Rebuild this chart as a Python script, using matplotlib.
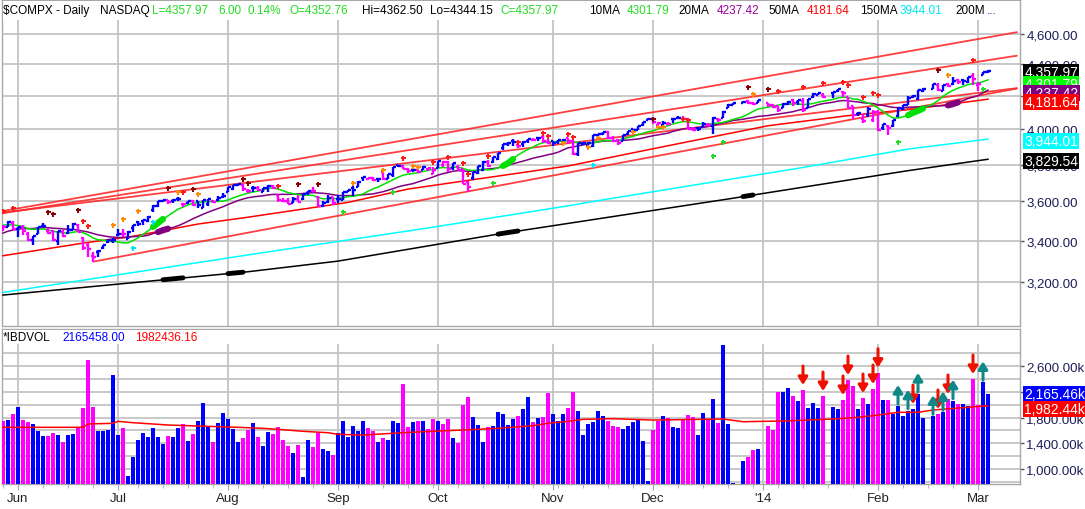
import numpy as np
import pandas as pd
import matplotlib
matplotlib.use("Agg")
import matplotlib.pyplot as plt
from matplotlib.collections import LineCollection
from matplotlib.patches import Rectangle
from matplotlib.ticker import FixedLocator, NullLocator, FuncFormatter, NullFormatter

plt.rcParams['font.family'] = ['Liberation Sans', 'DejaVu Sans']

# ---------------- data ----------------
# trading-day slots (holidays Dec 25, Jan 1, Jan 20, Feb 17 are shown as empty slots)
dates = pd.bdate_range("2013-05-29", "2014-03-05")
dates = dates.drop(pd.to_datetime(["2013-07-04", "2013-09-02", "2013-11-28"]))

prior_closes = [3299.13, 3340.62, 3378.63, 3392.97, 3396.63, 3413.27, 3409.17, 3436.58, 3438.79, 3462.61,
                3471.62, 3465.24, 3498.97, 3496.43, 3502.12, 3463.30, 3459.42, 3459.14, 3488.89]

opens = [
    3474, 3468, 3486, 3460, 3466, 3435, 3405, 3435, 3473, 3446,
    3450, 3396, 3444, 3440, 3452, 3480, 3412, 3380, 3323, 3341,
    3365, 3392, 3396, 3426, 3432, 3410, 3464, 3495, 3498, 3500,
    3557, 3575, 3601, 3606, 3601, 3611, 3586, 3592, 3600, 3601,
    3567, 3589, 3603, 3608, 3623, 3650, 3667, 3688, 3689, 3657,
    3669, 3670, 3650, 3674, 3685, 3633, 3605, 3604, 3593, 3611,
    3614, 3646, 3658, 3626, 3574, 3595, 3623, 3613, 3608, 3651,
    3674, 3677, 3725, 3723, 3725, 3719, 3759, 3720, 3744, 3797,
    3792, 3775, 3769, 3770, 3770, 3775, 3749, 3782, 3795, 3813,
    3778, 3786, 3773, 3706, 3724, 3751, 3770, 3812, 3812, 3829,
    3894, 3914, 3935, 3911, 3917, 3936, 3941, 3950, 3957, 3927,
    3931, 3929, 3924, 3950, 3935, 3858, 3915, 3910, 3903, 3966,
    3973, 3986, 3950, 3937, 3932, 3972, 4000, 3996, 4024, 4058,
    4064, 4025, 4026, 4035, 4059, 4068, 4060, 4062, 4005, 4010,
    4012, 4025, 4022, 4060, 4068, 4126, 4149, None, 4160, 4171,
    4158, 4161, None, 4161, 4149, 4138, 4129, 4154, 4179, 4163,
    4168, 4126, 4194, 4210, 4209, None, 4219, 4235, 4228, 4193,
    4137, 4090, 4061, 4083, 4054, 4105, 4009, 4019, 4022, 4082,
    4122, 4148, 4193, 4180, 4235, None, 4246, 4267, 4235, 4275,
    4273, 4298, 4300, 4285, 4327, 4270, 4331, 4352.76]

highs = [
    3478, 3500, 3500, 3467, 3478, 3443, 3425, 3470, 3488, 3461,
    3453, 3450, 3455, 3476, 3490, 3485, 3418, 3386, 3344, 3353,
    3378, 3409, 3414, 3458, 3456, 3449, 3480, 3498, 3505, 3525,
    3579, 3601, 3610, 3610, 3614, 3626, 3590, 3602, 3606, 3604,
    3606, 3614, 3608, 3630, 3646, 3678, 3690, 3693, 3692, 3666,
    3680, 3680, 3670, 3688, 3687, 3633, 3617, 3619, 3622, 3633,
    3639, 3658, 3675, 3631, 3605, 3634, 3625, 3636, 3651, 3662,
    3681, 3708, 3730, 3727, 3730, 3723, 3761, 3750, 3789, 3800,
    3800, 3778, 3781, 3778, 3794, 3783, 3785, 3819, 3820, 3819,
    3808, 3798, 3776, 3712, 3761, 3792, 3817, 3823, 3840, 3864,
    3916, 3925, 3946, 3920, 3932, 3944, 3948, 3953, 3968, 3942,
    3934, 3937, 3947, 3953, 3938, 3920, 3925, 3925, 3966, 3975,
    3986, 3991, 3960, 3946, 3970, 3992, 4003, 4022, 4046, 4069,
    4071, 4044, 4052, 4047, 4063, 4077, 4078, 4066, 4012, 4012,
    4042, 4036, 4071, 4068, 4111, 4150, 4157, None, 4169, 4175,
    4164, 4177, None, 4161, 4152, 4139, 4157, 4171, 4182, 4175,
    4188, 4184, 4221, 4220, 4221, None, 4226, 4247, 4232, 4197,
    4138, 4105, 4091, 4132, 4117, 4116, 4032, 4027, 4058, 4126,
    4149, 4198, 4208, 4241, 4250, None, 4274, 4283, 4271, 4284,
    4318, 4307, 4305, 4322, 4342, 4288, 4354, 4362.50]

lows = [
    3446, 3466, 3455, 3419, 3430, 3397, 3378, 3432, 3466, 3432,
    3396, 3379, 3419, 3432, 3452, 3442, 3355, 3321, 3295, 3320,
    3356, 3390, 3388, 3423, 3416, 3409, 3445, 3473, 3478, 3495,
    3545, 3570, 3596, 3587, 3594, 3605, 3569, 3588, 3578, 3567,
    3564, 3577, 3593, 3601, 3618, 3648, 3663, 3681, 3655, 3645,
    3651, 3655, 3648, 3650, 3664, 3599, 3598, 3589, 3591, 3596,
    3610, 3636, 3656, 3577, 3570, 3592, 3581, 3591, 3606, 3649,
    3630, 3676, 3712, 3713, 3712, 3705, 3713, 3720, 3731, 3784,
    3774, 3753, 3760, 3755, 3768, 3766, 3746, 3780, 3789, 3760,
    3771, 3770, 3692, 3650, 3717, 3750, 3766, 3789, 3810, 3826,
    3884, 3905, 3906, 3891, 3900, 3920, 3931, 3935, 3922, 3917,
    3902, 3914, 3919, 3917, 3856, 3849, 3911, 3902, 3900, 3957,
    3970, 3944, 3926, 3911, 3932, 3969, 3987, 3995, 4023, 4055,
    4035, 4017, 4011, 4026, 4040, 4064, 4057, 4001, 3989, 3990,
    4012, 4015, 3973, 4046, 4068, 4126, 4147, None, 4156, 4150,
    4145, 4157, None, 4132, 4125, 4103, 4125, 4145, 4142, 4149,
    4106, 4126, 4190, 4206, 4189, None, 4188, 4227, 4196, 4127,
    4061, 4077, 4040, 4076, 4044, 3993, 3997, 3968, 4017, 4076,
    4118, 4144, 4189, 4179, 4225, None, 4245, 4232, 4230, 4258,
    4270, 4275, 4270, 4281, 4269, 4234, 4331, 4344.15]

closes = [
    3467.52, 3491.30, 3455.91, 3465.37, 3445.26, 3401.48, 3424.05, 3469.22, 3473.77, 3436.95,
    3400.43, 3445.36, 3423.56, 3452.13, 3482.18, 3443.20, 3364.64, 3357.25, 3320.76, 3347.89,
    3376.22, 3401.86, 3403.25, 3434.49, 3433.40, 3443.67, 3479.38, 3484.83, 3504.26, 3520.76,
    3578.30, 3600.08, 3607.49, 3598.50, 3610.00, 3611.28, 3587.61, 3600.39, 3579.27, 3579.60,
    3605.19, 3613.16, 3599.14, 3616.47, 3626.37, 3675.74, 3689.59, 3692.95, 3665.77, 3654.01,
    3669.12, 3660.11, 3669.95, 3684.44, 3669.27, 3606.12, 3602.78, 3589.09, 3613.59, 3599.79,
    3638.71, 3657.79, 3657.57, 3578.52, 3593.35, 3620.30, 3589.87, 3612.61, 3649.04, 3658.78,
    3660.01, 3706.18, 3729.02, 3725.01, 3715.97, 3722.18, 3717.85, 3745.70, 3783.64, 3789.38,
    3774.73, 3765.29, 3768.25, 3761.10, 3787.43, 3781.59, 3771.48, 3817.98, 3815.02, 3774.34,
    3807.75, 3770.38, 3694.83, 3677.78, 3760.75, 3791.87, 3815.28, 3794.01, 3839.43, 3863.15,
    3914.28, 3920.05, 3929.57, 3907.07, 3928.96, 3943.36, 3940.13, 3952.34, 3930.62, 3919.71,
    3922.04, 3936.59, 3939.86, 3931.95, 3857.33, 3919.23, 3919.79, 3919.92, 3965.58, 3972.74,
    3985.97, 3949.07, 3931.55, 3921.27, 3969.16, 3991.65, 3994.57, 4017.75, 4044.75, 4059.89,
    4045.26, 4037.20, 4038.00, 4033.16, 4062.52, 4068.75, 4060.49, 4003.81, 3998.40, 4000.98,
    4029.52, 4023.68, 4070.06, 4058.13, 4104.74, 4148.90, 4155.42, None, 4167.18, 4156.59,
    4154.20, 4176.59, None, 4143.07, 4131.91, 4113.68, 4153.18, 4165.61, 4156.19, 4174.67,
    4113.30, 4183.02, 4214.88, 4218.69, 4197.58, None, 4225.76, 4243.00, 4218.88, 4128.17,
    4083.61, 4097.96, 4051.43, 4123.13, 4103.88, 3996.96, 4031.52, 4011.55, 4057.12, 4125.86,
    4148.17, 4191.05, 4201.29, 4240.67, 4244.03, None, 4272.78, 4237.95, 4267.55, 4263.41,
    4292.06, 4287.59, 4292.97, 4318.93, 4308.12, 4277.30, 4351.97, 4357.97]

# volume in thousands of shares
volume_k = [
    1751, 1766, 1855, 1968, 1766, 1730, 1699, 1590, 1513, 1513,
    1559, 1528, 1420, 1528, 1544, 1637, 1948, 2694, 1963, 1590,
    1590, 1606, 2461, 1528, 1637, 896, 1186, 1451, 1559, 1497,
    1637, 1497, 1389, 1513, 1497, 1637, 1699, 1435, 1544, 1746,
    2026, 1653, 1420, 1715, 1870, 1777, 1622, 1420, 1482, 1606,
    1715, 1497, 1357, 1575, 1544, 1653, 1451, 1357, 1249, 1373,
    876, 1451, 1342, 1559, 1311, 1280, 1218, 1559, 1746, 1497,
    1668, 1590, 1746, 1637, 1590, 1420, 1482, 1451, 1746, 1715,
    2321, 1653, 1730, 1746, 1746, 1622, 1777, 1746, 1699, 1777,
    1482, 1404, 1994, 2119, 1808, 1684, 1420, 1653, 1668, 1886,
    1855, 1684, 1777, 1824, 1932, 2119, 1730, 1793, 1808, 2181,
    1855, 1746, 1855, 1948, 2197, 1901, 1528, 1699, 1730, 1901,
    1824, 1746, 1668, 1653, 1622, 1668, 1730, 1777, 1440, 816,
    1611, 1751, 1819, 1788, 1648, 1632, 1777, 1839, 1803, 1528,
    1865, 1777, 2088, 1710, 2927, 1699, 782, None, 1119, 1191,
    1295, 1311, None, 1663, 1606, 2197, 2197, 2259, 2134, 2057,
    2228, 1948, 2026, 1948, 2134, None, 1963, 1932, 2072, 2383,
    2290, 1932, 2103, 2010, 2243, 2497, 2072, 2072, 1855, 1979,
    1830, 1906, 1932, 2166, 1788, None, 1819, 1855, 1881, 2088,
    2062, 2010, 2010, 1984, 2399, 1995, 2347, 2165.458]

# 50-day volume average
vma_idx = [0, 16, 17, 22, 23, 26, 33, 39, 47, 52, 56, 60, 65, 67, 72, 80, 86, 92, 99, 106,
           109, 113, 116, 122, 130, 144, 148, 156, 166, 171, 175, 179, 183, 186, 193, 197]
vma_val = [1648, 1648, 1700, 1710, 1741, 1720, 1684, 1668, 1648, 1632, 1611, 1586, 1564, 1539,
           1528, 1564, 1586, 1606, 1632, 1673, 1710, 1741, 1772, 1782, 1761, 1777, 1735, 1746,
           1777, 1803, 1839, 1881, 1881, 1917, 1959, 1982.436]

# longer moving averages
ma50_idx = [0, 16, 26, 39, 49, 69, 81, 113, 133, 153, 169, 182, 197]
ma50_val = [3325, 3387, 3421, 3483, 3518, 3595, 3666, 3792, 3906, 4022, 4082, 4121, 4181.64]
ma150_idx = [0, 49, 85, 113, 121, 159, 181, 197]
ma150_val = [3151, 3329, 3463, 3577, 3613, 3779, 3887, 3944.01]
ma200_idx = [0, 49, 67, 99, 145, 181, 197]
ma200_val = [3139, 3248, 3299, 3432, 3613, 3766, 3829.54]

# trendlines: (start idx, start price, end idx, end price)
trend_lines = [
    (0, 3550, 202.9, 4613),
    (0, 3539, 202.9, 4457),
    (0, 3542, 202.9, 4250),
    (18, 3296, 202.9, 4248),
]

# signal dots
dot_idx = [0, 2, 9, 10, 15, 16, 17, 22, 24, 26, 27, 30, 33, 35, 36, 38, 39, 48, 49, 55,
           59, 63, 68, 70, 76, 78, 80, 82, 83, 86, 89, 92, 93, 97, 98, 103, 108, 109, 112, 113,
           114, 117, 118, 119, 126, 130, 131, 132, 136, 137, 142, 144, 149, 150, 153, 155, 160, 164, 168, 169,
           172, 174, 175, 179, 187, 189, 194, 196]
dot_price = [3552, 3566, 3543, 3537, 3557, 3498, 3472, 3478, 3507, 3363, 3549, 3494, 3670, 3651, 3651, 3665, 3638, 3719, 3697, 3685,
             3691, 3691, 3544, 3697, 3771, 3651, 3839, 3793, 3788, 3815, 3842, 3807, 3750, 3848, 3697, 3925, 3978, 3963, 3923, 3972,
             3958, 3900, 3795, 3953, 3983, 4060, 4012, 4012, 4064, 4056, 3848, 3926, 4256, 4215, 4242, 4231, 4256, 4281, 4290, 4267,
             4196, 4217, 4208, 3929, 4363, 4335, 4428, 4242]
dot_kind = ['r', 'r', 'd', 'd', 'd', 'r', 'r', 'o', 'o', 'c', 'o', 'c', 'd', 'o', 'r', 'd', 'o', 'd', 'd', 'r',
            'd', 'd', 'g', 'o', 'o', 'g', 'r', 'o', 'o', 'r', 'r', 'r', 'r', 'r', 'g', 'r', 'r', 'r', 'o', 'r',
            'r', 'o', 'c', 'o', 'o', 'd', 'o', 'o', 'r', 'r', 'g', 'g', 'd', 'o', 'd', 'r', 'r', 'r', 'r', 'r',
            'r', 'r', 'r', 'g', 'd', 'o', 'r', 'g']

thick10 = [(30, 32), (100, 102), (181, 184)]
thick20 = [(31, 33), (189, 191)]
thick200 = [(32, 36), (45, 48), (99, 103), (148, 150)]

down_arrows = [160, 164, 168, 169, 172, 174, 175, 182, 187, 189, 194]
up_arrows = [179, 181, 183, 186, 188, 190, 196]

price_ticks = [3200, 3400, 3600, 3800, 4000, 4200, 4400, 4600]
vol_ticks = [1000, 1400, 1800, 2200, 2600]
vol_grid = [800, 1200, 1600, 2000, 2400, 2800]

# ---------------- styling ----------------
BLUE = '#0000ff'
MAG = '#ff00ff'
LIME = '#00e000'
PURPLE = '#800080'
RED = '#ff0000'
CYAN = '#00ffff'
GRID = '#c4c4c4'
SPINE = '#a8a8a8'
AXTXT = '#1d1d5a'
dot_colors = {'r': '#ff1a1a', 'd': '#8b0000', 'o': '#ff8c00', 'g': '#22dd22', 'c': '#00e5ee'}

assert len(dates) == len(opens) == len(highs) == len(lows) == len(closes) == len(volume_k) == 198

W, H = 1085, 510
fig = plt.figure(figsize=(W / 100, H / 100), dpi=100)
fig.patch.set_facecolor('white')

def fx(px):
    return px / W

ax = fig.add_axes([fx(2), 1 - 327 / H, fx(1018), 326 / H])
axv = fig.add_axes([fx(2), 1 - 485 / H, fx(1018), 155 / H])

N = len(dates)
o = np.array(opens, dtype=float)
h = np.array(highs, dtype=float)
l = np.array(lows, dtype=float)
c = np.array(closes, dtype=float)
v = np.array(volume_k, dtype=float)

allc = pd.Series(prior_closes + closes, dtype=float)
prev = allc.ffill().shift(1).values[len(prior_closes):]
up = c > prev

# month ticks and weekly ticks
month_idx, week_idx = [], []
month_lab = []
for i, d in enumerate(dates):
    if i > 0 and d.month != dates[i - 1].month:
        month_idx.append(i)
        month_lab.append("'14" if d.month == 1 else d.strftime('%b'))
    if i == 0 or d.isocalendar()[1] != dates[i - 1].isocalendar()[1]:
        week_idx.append(i)

xlim = (-0.2, 203.4)
for a in (ax, axv):
    a.set_xlim(*xlim)
    a.set_facecolor('white')
    for s in a.spines.values():
        s.set_color(SPINE)
        s.set_linewidth(1.0)
    a.set_axisbelow(True)

# ---------- price panel ----------
ax.set_yscale('log')
ax.set_ylim(3000, 4835)
ax.yaxis.set_major_locator(FixedLocator(price_ticks))
ax.yaxis.set_minor_locator(NullLocator())
ax.yaxis.set_major_formatter(FuncFormatter(lambda val, p: f'{val:,.2f}'))
ax.yaxis.set_minor_formatter(NullFormatter())
ax.yaxis.tick_right()
ax.tick_params(axis='y', which='major', length=3, width=1, color='#505070', pad=1.5,
               labelsize=9.5, labelcolor=AXTXT)
ax.xaxis.set_major_locator(FixedLocator(month_idx))
ax.xaxis.set_minor_locator(NullLocator())
ax.tick_params(axis='x', which='both', length=0, labelbottom=False)
ax.grid(True, which='major', color=GRID, lw=1.3)

# long MAs
ax.plot(ma150_idx, ma150_val, color=CYAN, lw=1.1, zorder=3)
ax.plot(ma200_idx, ma200_val, color='black', lw=1.1, zorder=3)
for a_, b_ in thick200:
    xs = np.arange(a_, b_ + 0.01, 0.25)
    ax.plot(xs, np.interp(xs, ma200_idx, ma200_val), color='black', lw=3.5,
            solid_capstyle='round', zorder=3)
ax.plot(ma50_idx, ma50_val, color=RED, lw=1.1, zorder=3)

# trendlines
for i0, p0, i1, p1 in trend_lines:
    ax.plot([i0, i1], [p0, p1], color='#ff2a2a', lw=1.3, alpha=0.9, zorder=3,
            solid_capstyle='butt')

# short MAs from closes
valid = allc.dropna()
kpr = len(prior_closes)
for win, col, thick in ((20, PURPLE, thick20), (10, LIME, thick10)):
    ma = valid.rolling(win).mean()
    ma = ma[ma.index >= kpr]
    xs = ma.index.values - kpr
    ax.plot(xs, ma.values, color=col, lw=1.1, zorder=4)
    for a_, b_ in thick:
        sel = (xs >= a_) & (xs <= b_)
        ax.plot(xs[sel], ma.values[sel], color=col, lw=4.5, solid_capstyle='round', zorder=4)

# OHLC bars
segs, cols = [], []
for i in range(N):
    if np.isnan(c[i]):
        continue
    col = BLUE if up[i] else MAG
    segs += [[(i, l[i]), (i, h[i])], [(i - 0.5, o[i]), (i, o[i])], [(i, c[i]), (i + 0.5, c[i])]]
    cols += [col] * 3
ax.add_collection(LineCollection(segs, colors=cols, linewidths=1.7, zorder=6, capstyle='butt'))

# dots
for kind in dot_colors:
    xs = [dot_idx[j] for j in range(len(dot_idx)) if dot_kind[j] == kind]
    ys = [dot_price[j] for j in range(len(dot_idx)) if dot_kind[j] == kind]
    ax.plot(xs, ys, linestyle='none', marker='P', ms=3.6, color=dot_colors[kind],
            markeredgewidth=0, zorder=7)

# last value boxes
def vbox(a, val, txt, bg, dy=0, fg='white', size=10):
    a.annotate(txt, xy=(1.0, val), xycoords=a.get_yaxis_transform(),
               xytext=(3, dy), textcoords='offset points', ha='left', va='center',
               fontsize=size, color=fg, annotation_clip=False, zorder=20,
               bbox=dict(boxstyle='square,pad=0.08', fc=bg, ec='none'))

vbox(ax, 4357.97, '4,357.97', 'black', -1)
vbox(ax, 4301.79, '4,301.79', '#00ff00', -3)
vbox(ax, 4237.42, '4,237.42', PURPLE, -2)
vbox(ax, 4181.64, '4,181.64', RED, -2)
vbox(ax, 3944.01, '3,944.01', CYAN, -1.5)
vbox(ax, 3829.54, '3,829.54', 'black', -1)

# ---------- volume panel ----------
axv.set_ylim(767, 3176)
axv.yaxis.set_major_locator(FixedLocator(vol_ticks))
axv.yaxis.set_minor_locator(FixedLocator(vol_grid))
axv.yaxis.set_major_formatter(FuncFormatter(lambda val, p: f'{val:,.2f}k'))
axv.yaxis.tick_right()
axv.tick_params(axis='y', which='major', length=3, width=1, color='#505070', pad=1.5,
                labelsize=9.5, labelcolor=AXTXT)
axv.tick_params(axis='y', which='minor', length=0)
axv.xaxis.set_major_locator(FixedLocator(month_idx))
axv.xaxis.set_major_formatter(FuncFormatter(lambda val, p: month_lab[month_idx.index(int(round(val)))]
                                            if int(round(val)) in month_idx else ''))
axv.xaxis.set_minor_locator(FixedLocator(week_idx))
axv.tick_params(axis='x', which='major', length=4, color=SPINE, labelsize=9.5,
                labelcolor='#222222', pad=2)
axv.tick_params(axis='x', which='minor', length=3, color=SPINE)
axv.grid(True, which='major', color=GRID, lw=1.3)
axv.grid(True, which='minor', axis='y', color=GRID, lw=1.3)

vcols = [BLUE if up[i] else MAG for i in range(N)]
ok = ~np.isnan(v)
axv.bar(np.arange(N)[ok], v[ok], width=0.62, color=np.array(vcols)[ok], zorder=3)
axv.plot(vma_idx, vma_val, color=RED, lw=1.1, zorder=4)

k_per_px = (3176 - 767) / 155.0
for i in down_arrows:
    axv.annotate('', xy=(i, v[i] + 5 * k_per_px), xytext=(i, v[i] + 24 * k_per_px),
                 arrowprops=dict(arrowstyle='-|>,head_length=0.45,head_width=0.28',
                                 lw=2.2, color='#ee1100', shrinkA=0, shrinkB=0), zorder=6)
for i in up_arrows:
    axv.annotate('', xy=(i, v[i] + 21 * k_per_px), xytext=(i, v[i] + 2 * k_per_px),
                 arrowprops=dict(arrowstyle='-|>,head_length=0.45,head_width=0.28',
                                 lw=2.2, color='#118888', shrinkA=0, shrinkB=0), zorder=6)

vbox(axv, 2165.458, '2,165.46k', BLUE, 0)
vbox(axv, 1982.436, '1,982.44k', RED, -2.5)

# ---------- header bands and legends ----------
fig.patches.append(Rectangle((fx(2.6), 1 - 21 / H), fx(1016.8), 19.5 / H, transform=fig.transFigure,
                             fc='white', ec='none', zorder=5))
fig.patches.append(Rectangle((fx(2.6), 1 - 345 / H), fx(1016.8), 14.5 / H, transform=fig.transFigure,
                             fc='white', ec='none', zorder=5))

G = '#22dd22'
header = [(3, '$COMPX - Daily', 'black'), (100, 'NASDAQ', 'black'), (152, 'L=4357.97', G),
          (218, '6.00', G), (248, '0.14%', G), (289, 'O=4352.76', G), (362, 'Hi=4362.50', 'black'),
          (430, 'Lo=4344.15', 'black'), (500, 'C=4357.97', G), (589, '10MA', 'black'),
          (627, '4301.79', G), (678, '20MA', 'black'), (717, '4237.42', '#990099'),
          (768, '50MA', 'black'), (807, '4181.64', RED), (860, '150MA', 'black'),
          (900, '3944.01', '#00e5ee'), (955, '200M', 'black'), (987, '...', '#2222cc')]
for px, t, col in header:
    fig.text(fx(px), 1 - 11 / H, t, color=col, fontsize=8.5, va='center', ha='left', zorder=6)

vol_header = [(3, '*IBDVOL', 'black'), (62, '2165458.00', BLUE), (135, '1982436.16', RED)]
for px, t, col in vol_header:
    fig.text(fx(px), 1 - 338 / H, t, color=col, fontsize=8.5, va='center', ha='left', zorder=6)

fig.savefig('out.png', dpi=100)
